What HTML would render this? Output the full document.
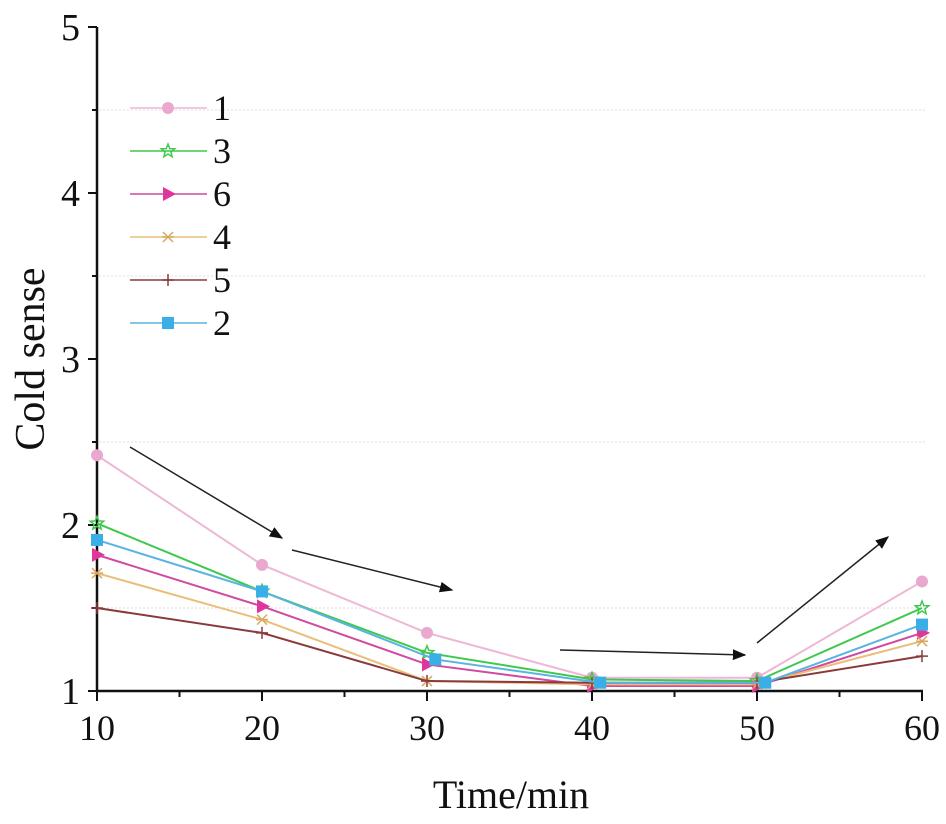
<!DOCTYPE html>
<html><head><meta charset="utf-8"><style>
body{margin:0;background:#fff}
svg text{font-family:"Liberation Serif",serif;fill:#111}
</style></head><body>
<svg id="chart" width="946" height="819" viewBox="0 0 946 819" xmlns="http://www.w3.org/2000/svg">
<defs><marker id="ah" viewBox="0 0 10 10" refX="9" refY="5" markerWidth="9" markerHeight="9" orient="auto"><path d="M0,1 L10,5 L0,9 z" fill="#111"/></marker></defs>
<g id="grid"></g><g id="axes"></g><g id="series"></g><g id="legend"></g><g id="arrows"></g>
<text x="511" y="808" font-size="40" text-anchor="middle">Time/min</text>
<text transform="translate(44,359) rotate(-90)" font-size="42" text-anchor="middle">Cold sense</text>
</svg>
<script>
const xCats=[10,20,30,40,50,60];
const xTicks=[10,20,30,40,50,60];
const yTicks=[1,2,3,4,5];
const seriesNames=['1','3','6','4','5','2'];
const s1=[2.42,1.76,1.35,1.08,1.08,1.66];
const s3=[2.01,1.60,1.23,1.07,1.06,1.50];
const s6=[1.82,1.51,1.16,1.03,1.03,1.35];
const s4=[1.71,1.43,1.06,1.04,1.04,1.30];
const s5=[1.50,1.35,1.06,1.05,1.05,1.21];
const s2=[1.91,1.60,1.19,1.05,1.05,1.40];
const NS='http://www.w3.org/2000/svg';
const X=v=>97+(v-10)*16.5, Y=v=>691-(v-1)*166;
function mk(t,a,p){const e=document.createElementNS(NS,t);for(const k in a)e.setAttribute(k,a[k]);p.appendChild(e);return e;}
const grid=document.getElementById('grid'),axes=document.getElementById('axes'),ser=document.getElementById('series'),leg=document.getElementById('legend'),arr=document.getElementById('arrows');
[1.5,2.5,3.5,4.5].forEach(v=>{const l=mk('line',{x1:99,x2:925,y1:Y(v),y2:Y(v),stroke:'#ddd','stroke-width':1,'stroke-dasharray':'2,2'},grid);
 mk('line',{x1:92,x2:97,y1:Y(v),y2:Y(v),stroke:'#111','stroke-width':2},axes);});
let a=mk('line',{x1:97,x2:97,y1:Y(5),y2:Y(1)+1,stroke:'#111','stroke-width':2.5},axes);
a=mk('line',{x1:96,x2:923,y1:Y(1),y2:Y(1),stroke:'#111','stroke-width':2.5},axes);
yTicks.forEach(v=>{mk('line',{x1:88,x2:97,y1:Y(v),y2:Y(v),stroke:'#111','stroke-width':2},axes);
 const t=mk('text',{x:80,y:Y(v)+13,'font-size':38,'text-anchor':'end'},axes);t.textContent=v;});
xTicks.forEach(v=>{mk('line',{x1:X(v),x2:X(v),y1:Y(1),y2:Y(1)+10,stroke:'#111','stroke-width':2},axes);
 if(v<60)mk('line',{x1:X(v+5),x2:X(v+5),y1:Y(1),y2:Y(1)+6,stroke:'#111','stroke-width':2},axes);
 const t=mk('text',{x:X(v),y:Y(1)+49,'font-size':36,'text-anchor':'middle'},axes);t.textContent=v;});
const defs=[['1',s1,'#f0b6d6','#eaa8cf','circle',0],['3',s3,'#3ec94e','#3ec94e','star',0],['6',s6,'#cf4aa0','#e0359a','tri',0],['4',s4,'#e8be7a','#d9a860','x',0],['5',s5,'#8a3a3a','#8a3a3a','plus',0],['2',s2,'#5ab4e0','#3aaee6','sq',0.5]];
function marker(type,x,y,c,g){
 if(type==='circle')mk('circle',{cx:x,cy:y,r:6,fill:c},g);
 else if(type==='sq')mk('rect',{x:x-6,y:y-6,width:12,height:12,fill:c},g);
 else if(type==='tri')mk('path',{d:`M${x-5},${y-7} L${x+8},${y} L${x-5},${y+7} z`,fill:c},g);
 else if(type==='x')mk('path',{d:`M${x-5},${y-5}L${x+5},${y+5}M${x-5},${y+5}L${x+5},${y-5}M${x-6},${y}L${x+6},${y}`,stroke:c,'stroke-width':1.5},g);
 else if(type==='plus')mk('path',{d:`M${x-6},${y}L${x+6},${y}M${x},${y-6}L${x},${y+6}`,stroke:c,'stroke-width':1.5},g);
 else{let p='';for(let i=0;i<10;i++){const r=i%2?3:7,an=-Math.PI/2+i*Math.PI/5;p+=(i?'L':'M')+(x+r*Math.cos(an)).toFixed(1)+','+(y+r*Math.sin(an)).toFixed(1);}mk('path',{d:p+'z',fill:'none',stroke:c,'stroke-width':1.5},g);}
}
defs.forEach((d,i)=>{const g=mk('g',{},ser);
 const pts=d[1].map((v,j)=>[X(xCats[j]+(j>=2&&j<=4?d[5]:0)),Y(v)]);
 mk('polyline',{points:pts.map(p=>p.join(',')).join(' '),fill:'none',stroke:d[2],'stroke-width':2},g);
 pts.forEach(p=>marker(d[4],p[0],p[1],d[3],g));
 const ly=108+i*43;const lg=mk('g',{},leg);
 mk('line',{x1:130,x2:207,y1:ly,y2:ly,stroke:d[2],'stroke-width':1.5},lg);marker(d[4],168,ly,d[3],lg);
 const t=mk('text',{x:213,y:ly+12,'font-size':36},lg);t.textContent=seriesNames[i];});
[[130,447,282,538],[292,550,452,590],[560,650,745,655],[757,643,888,537]].forEach(c=>{const l=mk('line',{x1:c[0],y1:c[1],x2:c[2],y2:c[3],stroke:'#222','stroke-width':1.5,'marker-end':'url(#ah)'},arr);});
</script>
</body></html>
